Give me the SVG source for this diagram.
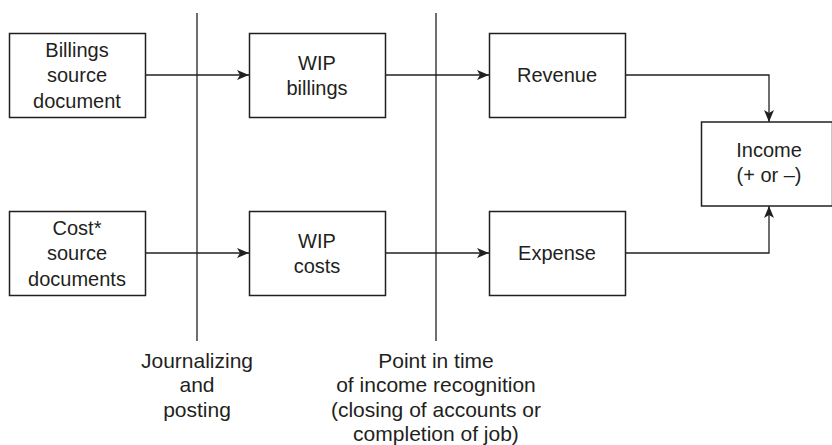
<svg xmlns="http://www.w3.org/2000/svg" width="832" height="445" viewBox="0 0 832 445">
<style>
.box{fill:#fff;stroke:#231f20;stroke-width:1.5}
.ln{fill:none;stroke:#231f20;stroke-width:1.3}
text{font-family:"Liberation Sans",Arial,sans-serif;font-size:20px;fill:#231f20;text-anchor:middle}
.lbl text{font-size:21px}
</style>
<defs>
<marker id="arr" viewBox="0 0 12 10" refX="12" refY="5" markerWidth="12" markerHeight="10" markerUnits="userSpaceOnUse" orient="auto">
<path d="M0,0 L12,5 L0,10 L3,5 Z" fill="#231f20"/>
</marker>
</defs>
<g id="connectors">
<line class="ln" x1="197" y1="13" x2="197" y2="341"/>
<line class="ln" x1="436" y1="13" x2="436" y2="341"/>
<line class="ln" x1="145" y1="75" x2="249" y2="75" marker-end="url(#arr)"/>
<line class="ln" x1="145" y1="253" x2="249" y2="253" marker-end="url(#arr)"/>
<line class="ln" x1="386" y1="75" x2="489" y2="75" marker-end="url(#arr)"/>
<line class="ln" x1="386" y1="253" x2="489" y2="253" marker-end="url(#arr)"/>
<polyline class="ln" points="626,75 769,75 769,122" marker-end="url(#arr)"/>
<polyline class="ln" points="626,253 769,253 769,206" marker-end="url(#arr)"/>
</g>
<g id="billings-source">
<rect class="box" x="9.5" y="33.5" width="136" height="84"/>
<text x="77" y="57">Billings</text>
<text x="77" y="82">source</text>
<text x="77" y="108">document</text>
</g>
<g id="cost-source">
<rect class="box" x="9.5" y="211.5" width="136" height="84"/>
<text x="77" y="235">Cost*</text>
<text x="77" y="260">source</text>
<text x="77" y="286">documents</text>
</g>
<g id="wip-billings">
<rect class="box" x="249.5" y="33.5" width="136" height="84"/>
<text x="317" y="70">WIP</text>
<text x="317" y="95">billings</text>
</g>
<g id="wip-costs">
<rect class="box" x="249.5" y="211.5" width="136" height="84"/>
<text x="317" y="248">WIP</text>
<text x="317" y="273">costs</text>
</g>
<g id="revenue">
<rect class="box" x="489.5" y="33.5" width="136" height="84"/>
<text x="557" y="82">Revenue</text>
</g>
<g id="expense">
<rect class="box" x="489.5" y="211.5" width="136" height="84"/>
<text x="557" y="260">Expense</text>
</g>
<g id="income">
<rect class="box" x="701.5" y="122" width="131" height="84"/>
<text x="769" y="157">Income</text>
<text x="769" y="182">(+ or –)</text>
</g>
<g id="label-journalizing" class="lbl">
<text x="197" y="368">Journalizing</text>
<text x="197" y="392">and</text>
<text x="197" y="417">posting</text>
</g>
<g id="label-point-in-time" class="lbl">
<text x="436" y="368">Point in time</text>
<text x="436" y="392">of income recognition</text>
<text x="436" y="417">(closing of accounts or</text>
<text x="436" y="441">completion of job)</text>
</g>
</svg>
